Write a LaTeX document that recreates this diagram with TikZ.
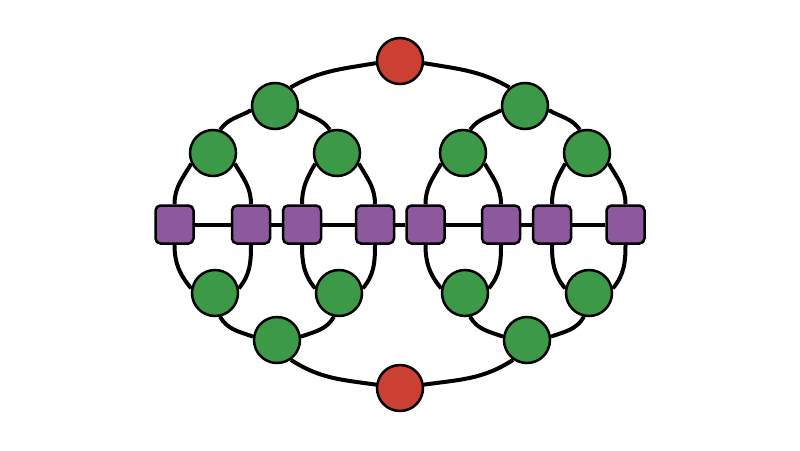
\documentclass[tikz,border=0pt]{standalone}
\usetikzlibrary{backgrounds}
\definecolor{cred}{RGB}{204,64,52}
\definecolor{cgreen}{RGB}{60,153,71}
\definecolor{cpurple}{RGB}{142,88,159}
\begin{document}
\begin{tikzpicture}[x=1pt,y=1pt,
  gnode/.style={circle,draw=black,line width=2.5pt,fill=cgreen,minimum size=46pt,inner sep=0pt},
  rnode/.style={gnode,fill=cred},
  snode/.style={rectangle,rounded corners=5pt,draw=black,line width=2.5pt,fill=cpurple,minimum size=38pt,inner sep=0pt},
  conn/.style={line width=4pt,draw=black}]
\useasboundingbox (0,0) rectangle (800,-450);
% red
\node[rnode] (rT) at (400,-61) {};
\node[rnode] (rB) at (400,-388) {};
% squares
\node[snode] (s1) at (174.5,-224.5) {};
\node[snode] (s2) at (251,-224.5) {};
\node[snode] (s3) at (302,-224.5) {};
\node[snode] (s4) at (375,-224.5) {};
\node[snode] (s5) at (425.5,-224.5) {};
\node[snode] (s6) at (501,-224.5) {};
\node[snode] (s7) at (552,-224.5) {};
\node[snode] (s8) at (625.5,-224.5) {};
% top greens
\node[gnode] (tA) at (275,-106) {};
\node[gnode] (tA1) at (213,-153) {};
\node[gnode] (tA2) at (337,-153) {};
\node[gnode] (tB) at (525,-106) {};
\node[gnode] (tB1) at (463,-153) {};
\node[gnode] (tB2) at (587,-153) {};
% bottom greens
\node[gnode] (bA) at (277,-340) {};
\node[gnode] (bA1) at (215,-293) {};
\node[gnode] (bA2) at (339,-293) {};
\node[gnode] (bB) at (527,-340) {};
\node[gnode] (bB1) at (465,-293) {};
\node[gnode] (bB2) at (589,-293) {};
\begin{pgfonlayer}{background}
% chain
\draw[conn] (s1) -- (s2);
\draw[conn] (s2) -- (s3);
\draw[conn] (s3) -- (s4);
\draw[conn] (s4) -- (s5);
\draw[conn] (s5) -- (s6);
\draw[conn] (s6) -- (s7);
\draw[conn] (s7) -- (s8);
% top
\draw[conn] (rT.185) to[out=190,in=30] (tA.50);
\draw[conn] (rT.-5) to[out=-10,in=150] (tB.130);
\draw[conn] (tA.190) to[out=210,in=55] (tA1.73);
\draw[conn] (tA.-10) to[out=-30,in=125] (tA2.107);
\draw[conn] (tB.190) to[out=210,in=55] (tB1.73);
\draw[conn] (tB.-10) to[out=-30,in=125] (tB2.107);
\draw[conn] (tA1.206) to[out=240,in=90] (s1.north);
\draw[conn] (tA1.-26) to[out=-60,in=90] (s2.north);
\draw[conn] (tA2.206) to[out=240,in=90] (s3.north);
\draw[conn] (tA2.-26) to[out=-60,in=90] (s4.north);
\draw[conn] (tB1.206) to[out=240,in=90] (s5.north);
\draw[conn] (tB1.-26) to[out=-60,in=90] (s6.north);
\draw[conn] (tB2.206) to[out=240,in=90] (s7.north);
\draw[conn] (tB2.-26) to[out=-60,in=90] (s8.north);
% bottom
\draw[conn] (s1.south) to[out=-90,in=130] (bA1.169);
\draw[conn] (s2.south) to[out=-90,in=50] (bA1.11);
\draw[conn] (s3.south) to[out=-90,in=130] (bA2.169);
\draw[conn] (s4.south) to[out=-90,in=50] (bA2.11);
\draw[conn] (s5.south) to[out=-90,in=130] (bB1.169);
\draw[conn] (s6.south) to[out=-90,in=50] (bB1.11);
\draw[conn] (s7.south) to[out=-90,in=130] (bB2.169);
\draw[conn] (s8.south) to[out=-90,in=50] (bB2.11);
\draw[conn] (bA1.-78) to[out=-60,in=160] (bA.172);
\draw[conn] (bA2.-102) to[out=-120,in=20] (bA.8);
\draw[conn] (bB1.-78) to[out=-60,in=160] (bB.172);
\draw[conn] (bB2.-102) to[out=-120,in=20] (bB.8);
\draw[conn] (bA.-55) to[out=-33,in=172] (rB.172);
\draw[conn] (rB.8) to[out=8,in=-147] (bB.-125);
\end{pgfonlayer}
\end{tikzpicture}
\end{document}
